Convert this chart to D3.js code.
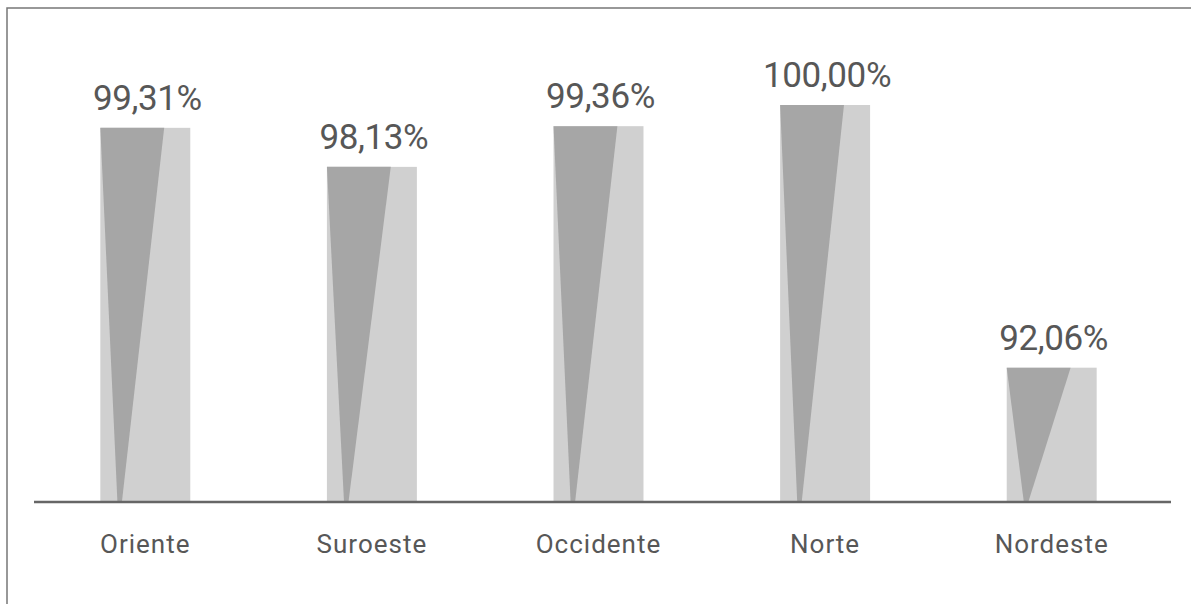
<!DOCTYPE html>
<html>
<head>
<meta charset="utf-8">
<script src="https://cdn.jsdelivr.net/npm/d3@7"></script>
<style>
  body { margin: 0; background: #fff; }
  svg { display: block; }
</style>
</head>
<body>
<div id="chart"></div>
<script>
var width  = 1191;
var height = 604;

// data
var regions = ["Oriente", "Suroeste", "Occidente", "Norte", "Nordeste"];
var values  = [99.31, 98.13, 99.36, 100.00, 92.06];
var labels  = ["99,31%", "98,13%", "99,36%", "100,00%", "92,06%"];

var baseY = 502;

var x = d3.scaleBand()
    .domain(regions)
    .range([32, 1165])
    .paddingInner(0.603)
    .paddingOuter(0.3015);

// axis doesn't start at zero in the original
var y = d3.scaleLinear()
    .domain([88, 100])
    .range([baseY, 105]);

var svg = d3.select("#chart").append("svg")
    .attr("width", width)
    .attr("height", height);

// frame (top + left only visible)
svg.append("path")
    .attr("d", "M7," + height + "V8H" + width)
    .attr("fill", "none")
    .attr("stroke", "#777")
    .attr("stroke-width", 1.5);

var rows = regions.map(function(r, i) { return {region: r, value: values[i], label: labels[i]}; });

var bars = svg.append("g").selectAll("g")
    .data(rows)
    .enter().append("g");

bars.append("rect")
    .attr("x", d => x(d.region))
    .attr("y", d => y(d.value))
    .attr("width", x.bandwidth())
    .attr("height", d => baseY - y(d.value))
    .attr("fill", "#d0d0d0");

// the darker wedge inside each bar
bars.append("path")
    .attr("d", function(d) {
      var x0 = x(d.region), w = x.bandwidth(), t = y(d.value);
      return "M" + x0 + "," + t +
             "L" + (x0 + 0.71 * w) + "," + t +
             "L" + (x0 + 0.24 * w) + "," + baseY +
             "L" + (x0 + 0.19 * w) + "," + baseY + "Z";
    })
    .attr("fill", "#a6a6a6");

bars.append("text")
    .attr("x", d => x(d.region) + x.bandwidth() / 2 + 2)
    .attr("y", d => y(d.value) - 18)
    .attr("text-anchor", "middle")
    .attr("font-family", "Roboto, sans-serif")
    .attr("font-size", 35)
    .attr("letter-spacing", -0.4)
    .attr("fill", "#575757")
    .text(d => d.label);

// baseline
svg.append("line")
    .attr("x1", 34).attr("x2", 1171)
    .attr("y1", baseY).attr("y2", baseY)
    .attr("stroke", "#666")
    .attr("stroke-width", 2.5);

svg.append("g").selectAll("text")
    .data(regions)
    .enter().append("text")
    .attr("x", d => x(d) + x.bandwidth() / 2)
    .attr("y", 553)
    .attr("text-anchor", "middle")
    .attr("font-family", "Roboto, sans-serif")
    .attr("font-size", 26)
    .attr("letter-spacing", 1)
    .attr("fill", "#575757")
    .text(d => d);
</script>
</body>
</html>
